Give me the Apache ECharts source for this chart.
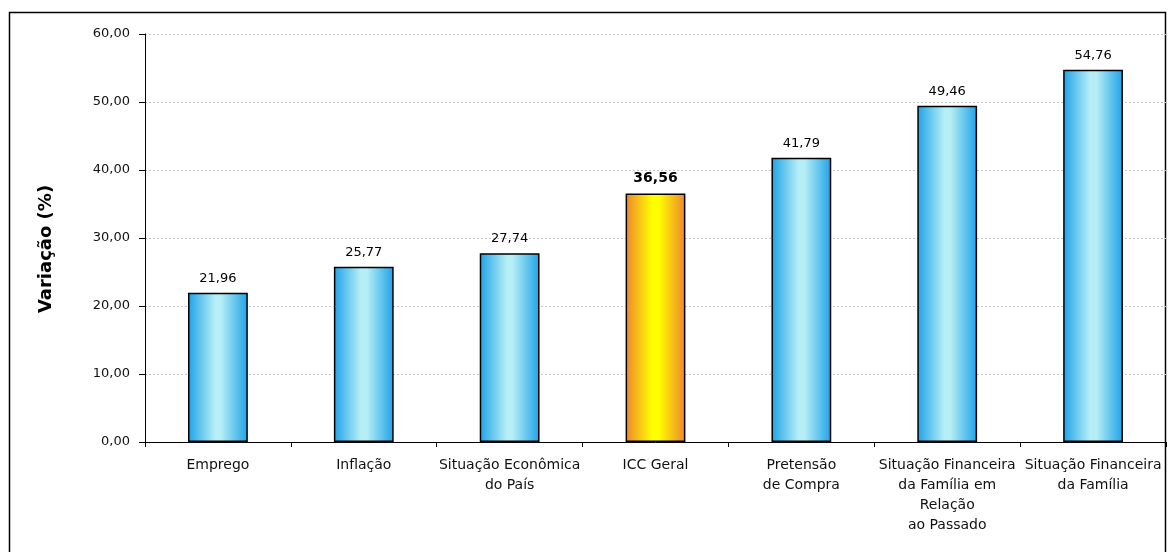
<!DOCTYPE html>
<html>
<head>
<meta charset="utf-8">
<script src="https://cdn.jsdelivr.net/npm/echarts@6/dist/echarts.min.js"></script>
<style>
html,body{margin:0;padding:0;background:#fff;}
#chart{width:1170px;height:552px;}
</style>
</head>
<body>
<div id="chart"></div>
<script>
const categories = ['Emprego', 'Inflação', 'Situação Econômica\ndo País', 'ICC Geral', 'Pretensão\nde Compra', 'Situação Financeira\nda Família em\nRelação\nao Passado', 'Situação Financeira\nda Família'];
const values = [21.96, 25.77, 27.74, 36.56, 41.79, 49.46, 54.76];
const highlightCategory = 'ICC Geral';
const yTicks = [0, 10, 20, 30, 40, 50, 60];

const fmt = v => Number(v).toFixed(2).replace('.', ',');
const blueGrad = new echarts.graphic.LinearGradient(0, 0, 1, 0, [
  {offset: 0, color: '#1ea2e8'},
  {offset: 0.45, color: '#b6eef6'},
  {offset: 0.55, color: '#b6eef6'},
  {offset: 1, color: '#1ea2e8'}
]);
const orangeGrad = new echarts.graphic.LinearGradient(0, 0, 1, 0, [
  {offset: 0, color: '#ee862e'},
  {offset: 0.45, color: '#ffff00'},
  {offset: 0.55, color: '#ffff00'},
  {offset: 1, color: '#ee862e'}
]);

const seriesData = values.map((v, i) => {
  const hi = categories[i] === highlightCategory;
  return {
    value: v,
    itemStyle: {color: hi ? orangeGrad : blueGrad},
    label: hi ? {fontWeight: 'bold', fontSize: 14} : {}
  };
});

const chart = echarts.init(document.getElementById('chart'));
chart.setOption({
  animation: false,
  textStyle: {fontFamily: 'DejaVu Sans'},
  graphic: [{
    type: 'rect',
    shape: {x: 9.5, y: 12.5, width: 1156, height: 560},
    style: {fill: 'none', stroke: '#000', lineWidth: 1.5},
    silent: true
  }],
  grid: {left: 145, right: 4, top: 34, bottom: 110},
  xAxis: {
    type: 'category',
    data: categories,
    axisLine: {lineStyle: {color: '#000', width: 1}},
    axisTick: {show: true, alignWithLabel: false, length: 5, lineStyle: {color: '#000'}},
    axisLabel: {color: '#111', fontSize: 14, lineHeight: 20, margin: 13, interval: 0, fontFamily: 'DejaVu Sans'}
  },
  yAxis: {
    type: 'value',
    min: 0, max: 60, interval: 10,
    name: 'Variação (%)',
    nameLocation: 'middle',
    nameRotate: 90,
    nameGap: 90,
    nameTextStyle: {fontSize: 18, fontWeight: 'bold', color: '#000', fontFamily: 'DejaVu Sans', padding: [0, 22, 0, 0]},
    axisLine: {show: true, lineStyle: {color: '#000', width: 1}},
    axisTick: {show: true, length: 6, lineStyle: {color: '#000'}},
    axisLabel: {color: '#111', fontSize: 13, margin: 15, formatter: v => fmt(v), fontFamily: 'DejaVu Sans'},
    splitLine: {show: true, lineStyle: {color: '#c4c4c4', type: [2, 2], width: 1}}
  },
  series: [{
    type: 'bar',
    data: seriesData,
    barWidth: '41%',
    itemStyle: {borderColor: '#000', borderWidth: 1.5},
    label: {
      show: true, position: 'top', distance: 8,
      color: '#000', fontSize: 13, fontFamily: 'DejaVu Sans',
      formatter: p => fmt(p.value)
    }
  }]
});
</script>
</body>
</html>
